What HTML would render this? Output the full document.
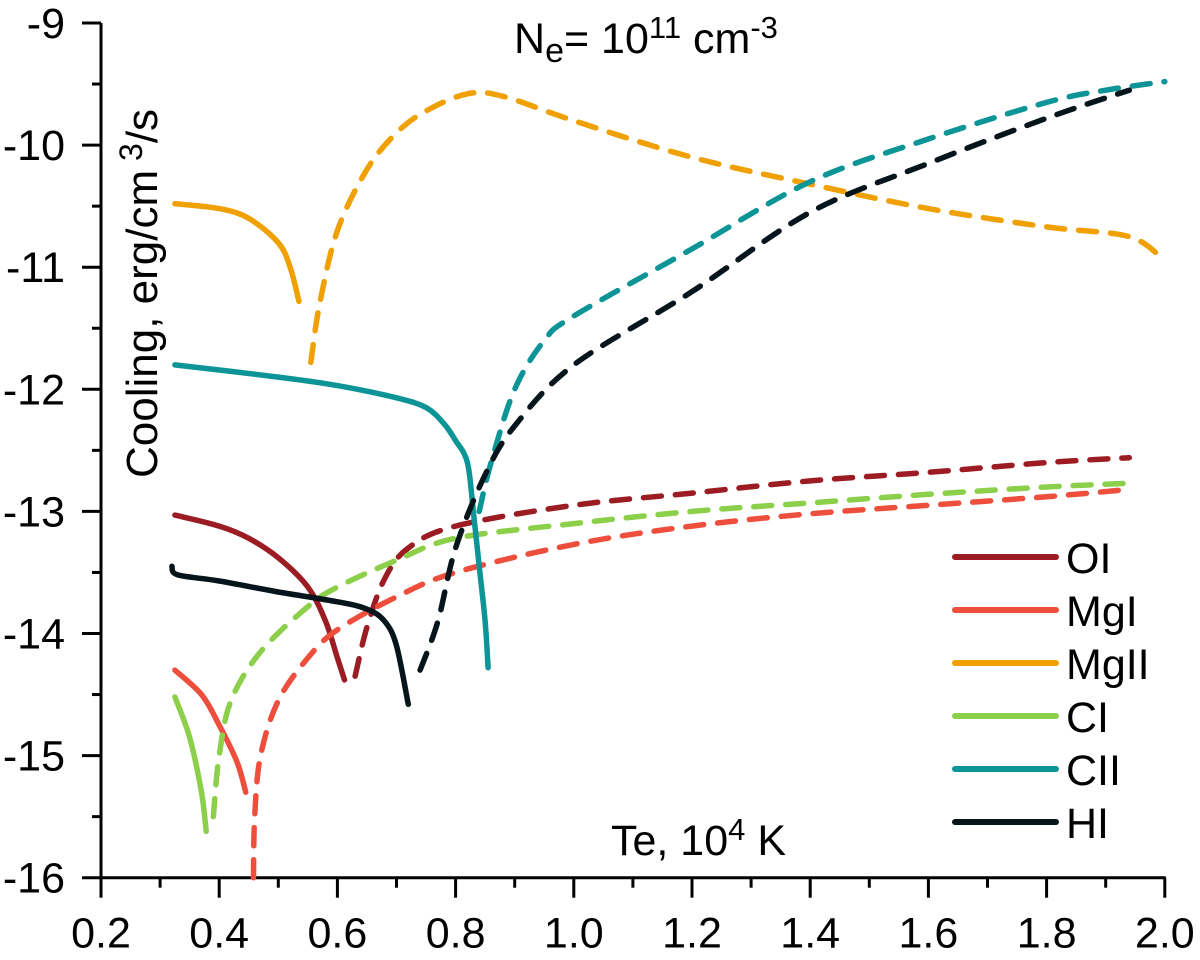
<!DOCTYPE html>
<html><head><meta charset="utf-8"><style>
body{margin:0;background:#fff}
svg text{font-family:"Liberation Sans",Arial,sans-serif;fill:#000}
</style></head><body>
<svg id="chart" width="1200" height="955" xmlns="http://www.w3.org/2000/svg">
<g id="axes"></g>
<g id="series"></g>
<g id="legend"></g>
<text x="514" y="53" font-size="43">N<tspan font-size="34" dy="9">e</tspan><tspan dy="-9">= 10</tspan><tspan font-size="31" dy="-15">11</tspan><tspan dy="15"> cm</tspan><tspan font-size="31" dy="-15">-3</tspan></text>
<text x="611" y="855" font-size="43">Te, 10<tspan font-size="31" dy="-15">4</tspan><tspan dy="15"> K</tspan></text>
<text transform="translate(157,478) rotate(-90)" font-size="44">Cooling, erg/cm<tspan font-size="32" dy="-15"> 3</tspan><tspan dy="15">/s</tspan></text>
</svg>
<script>
const xTicks=[0.2,0.4,0.6,0.8,1.0,1.2,1.4,1.6,1.8,2.0];
const yTicks=[-9,-10,-11,-12,-13,-14,-15,-16];
const seriesNames=["OI","MgI","MgII","CI","CII","HI"];
const seriesColors=["#9b1c22","#ee4f3c","#f0a000","#8ccf4a","#0c9496","#06151b"];
const OI_solid=[[0.325,-13.03],[0.4,-13.12],[0.45,-13.22],[0.5,-13.38],[0.55,-13.62],[0.58,-13.9],[0.6,-14.2],[0.612,-14.38]];
const OI_dash=[[0.63,-14.35],[0.65,-13.95],[0.68,-13.55],[0.72,-13.3],[0.8,-13.12],[1.0,-12.95],[1.2,-12.85],[1.4,-12.75],[1.6,-12.68],[1.8,-12.6],[1.94,-12.56]];
const MgI_solid=[[0.325,-14.3],[0.37,-14.5],[0.4,-14.75],[0.43,-15.05],[0.445,-15.3]];
const MgI_dash=[[0.458,-16.0],[0.46,-15.5],[0.47,-15.0],[0.5,-14.55],[0.55,-14.2],[0.6,-13.97],[0.7,-13.7],[0.8,-13.5],[1.0,-13.27],[1.2,-13.12],[1.4,-13.02],[1.6,-12.95],[1.8,-12.88],[1.94,-12.82]];
const MgII_solid=[[0.325,-10.48],[0.4,-10.52],[0.45,-10.6],[0.5,-10.8],[0.52,-11.0],[0.535,-11.28]];
const MgII_dash=[[0.555,-11.78],[0.57,-11.3],[0.6,-10.7],[0.65,-10.2],[0.7,-9.9],[0.75,-9.72],[0.82,-9.58],[0.88,-9.6],[1.0,-9.8],[1.2,-10.1],[1.4,-10.32],[1.6,-10.52],[1.8,-10.67],[1.94,-10.75],[2.0,-10.95]];
const CI_solid=[[0.325,-14.52],[0.35,-14.85],[0.37,-15.3],[0.378,-15.62]];
const CI_dash=[[0.39,-15.5],[0.4,-15.0],[0.42,-14.55],[0.47,-14.15],[0.55,-13.78],[0.6,-13.62],[0.7,-13.4],[0.8,-13.22],[1.0,-13.1],[1.2,-13.0],[1.4,-12.93],[1.6,-12.86],[1.8,-12.8],[1.94,-12.77]];
const CII_solid=[[0.325,-11.8],[0.5,-11.9],[0.6,-11.97],[0.7,-12.07],[0.75,-12.15],[0.78,-12.28],[0.8,-12.42],[0.82,-12.6],[0.83,-13.0],[0.84,-13.45],[0.85,-13.9],[0.855,-14.28]];
const CII_dash=[[0.84,-13.0],[0.86,-12.6],[0.9,-12.0],[0.95,-11.6],[1.0,-11.4],[1.2,-10.85],[1.4,-10.3],[1.6,-9.95],[1.8,-9.65],[1.9,-9.55],[2.0,-9.48]];
const HI_solid=[[0.32,-13.45],[0.33,-13.52],[0.4,-13.57],[0.5,-13.66],[0.6,-13.74],[0.65,-13.8],[0.68,-13.9],[0.7,-14.1],[0.72,-14.58]];
const HI_dash=[[0.74,-14.3],[0.77,-13.9],[0.8,-13.3],[0.85,-12.7],[0.9,-12.3],[1.0,-11.8],[1.2,-11.2],[1.4,-10.55],[1.6,-10.15],[1.8,-9.78],[1.94,-9.55]];

const NS="http://www.w3.org/2000/svg";
const X0=101,XS=591,Y0=23,YS=122.1;
function sx(v){return X0+(v-0.2)*XS;}
function sy(v){return Y0+(-9-v)*YS;}
function mk(tag,attrs,parent){const e=document.createElementNS(NS,tag);for(const k in attrs)e.setAttribute(k,attrs[k]);parent.appendChild(e);return e;}
const axes=document.getElementById('axes');
let a=mk('line',{x1:sx(0.2),y1:sy(-9),x2:sx(0.2),y2:sy(-16),stroke:'#000','stroke-width':3},axes);


a=mk('line',{x1:sx(0.2)-2,y1:sy(-16),x2:sx(2.0)+1,y2:sy(-16),stroke:'#000','stroke-width':3},axes);


xTicks.forEach((t,i)=>{
  const x=sx(t);
  mk('line',{x1:x,y1:sy(-16),x2:x,y2:sy(-16)+20,stroke:'#000','stroke-width':3},axes);
  if(i<xTicks.length-1){const m=sx(t+0.1);mk('line',{x1:m,y1:sy(-16),x2:m,y2:sy(-16)+10,stroke:'#000','stroke-width':3},axes);}
  const tx=mk('text',{x:x,y:sy(-16)+70,'font-size':43,'text-anchor':'middle'},axes);
  tx.textContent=t.toFixed(1);
  
  
});
yTicks.forEach((t,i)=>{
  const y=sy(t);
  mk('line',{x1:sx(0.2),y1:y,x2:sx(0.2)-19,y2:y,stroke:'#000','stroke-width':3},axes);
  if(i<yTicks.length-1){const m=sy(t-0.5);mk('line',{x1:sx(0.2),y1:m,x2:sx(0.2)-9,y2:m,stroke:'#000','stroke-width':3},axes);}
  const tx=mk('text',{x:65,y:y+15,'font-size':43,'text-anchor':'end'},axes);
  tx.textContent=String(t);
  
  
});
const ser=document.getElementById('series');
const data=[[OI_solid,OI_dash],[MgI_solid,MgI_dash],[MgII_solid,MgII_dash],[CI_solid,CI_dash],[CII_solid,CII_dash],[HI_solid,HI_dash]];
function path(pts){
  const P=pts.map(p=>[sx(p[0]),sy(p[1])]);
  let d='M'+P[0][0].toFixed(1)+' '+P[0][1].toFixed(1);
  for(let i=0;i<P.length-1;i++){
    const p0=P[i-1]||P[i],p1=P[i],p2=P[i+1],p3=P[i+2]||P[i+1];
    const c1=[p1[0]+(p2[0]-p0[0])/6,p1[1]+(p2[1]-p0[1])/6];
    const c2=[p2[0]-(p3[0]-p1[0])/6,p2[1]-(p3[1]-p1[1])/6];
    d+=' C'+c1[0].toFixed(1)+' '+c1[1].toFixed(1)+' '+c2[0].toFixed(1)+' '+c2[1].toFixed(1)+' '+p2[0].toFixed(1)+' '+p2[1].toFixed(1);
  }
  return d;
}
data.forEach((d,i)=>{
  const s=mk('path',{d:path(d[0]),fill:'none',stroke:seriesColors[i],'stroke-width':5.5,'stroke-linecap':'round','stroke-linejoin':'round'},ser);
  
  
  const q=mk('path',{d:path(d[1]),fill:'none',stroke:seriesColors[i],'stroke-width':5.5,'stroke-linecap':'round','stroke-dasharray':'18 14'},ser);
  
  
});
const leg=document.getElementById('legend');
seriesNames.forEach((n,i)=>{
  const y=557+i*53;
  const g=mk('g',{},leg);
  
  
  mk('line',{x1:955,y1:y,x2:1056,y2:y,stroke:seriesColors[i],'stroke-width':6,'stroke-linecap':'round'},g);
  const t=mk('text',{x:1066,y:y+16,'font-size':43},g);
  t.textContent=n;
});
</script>
</body></html>
